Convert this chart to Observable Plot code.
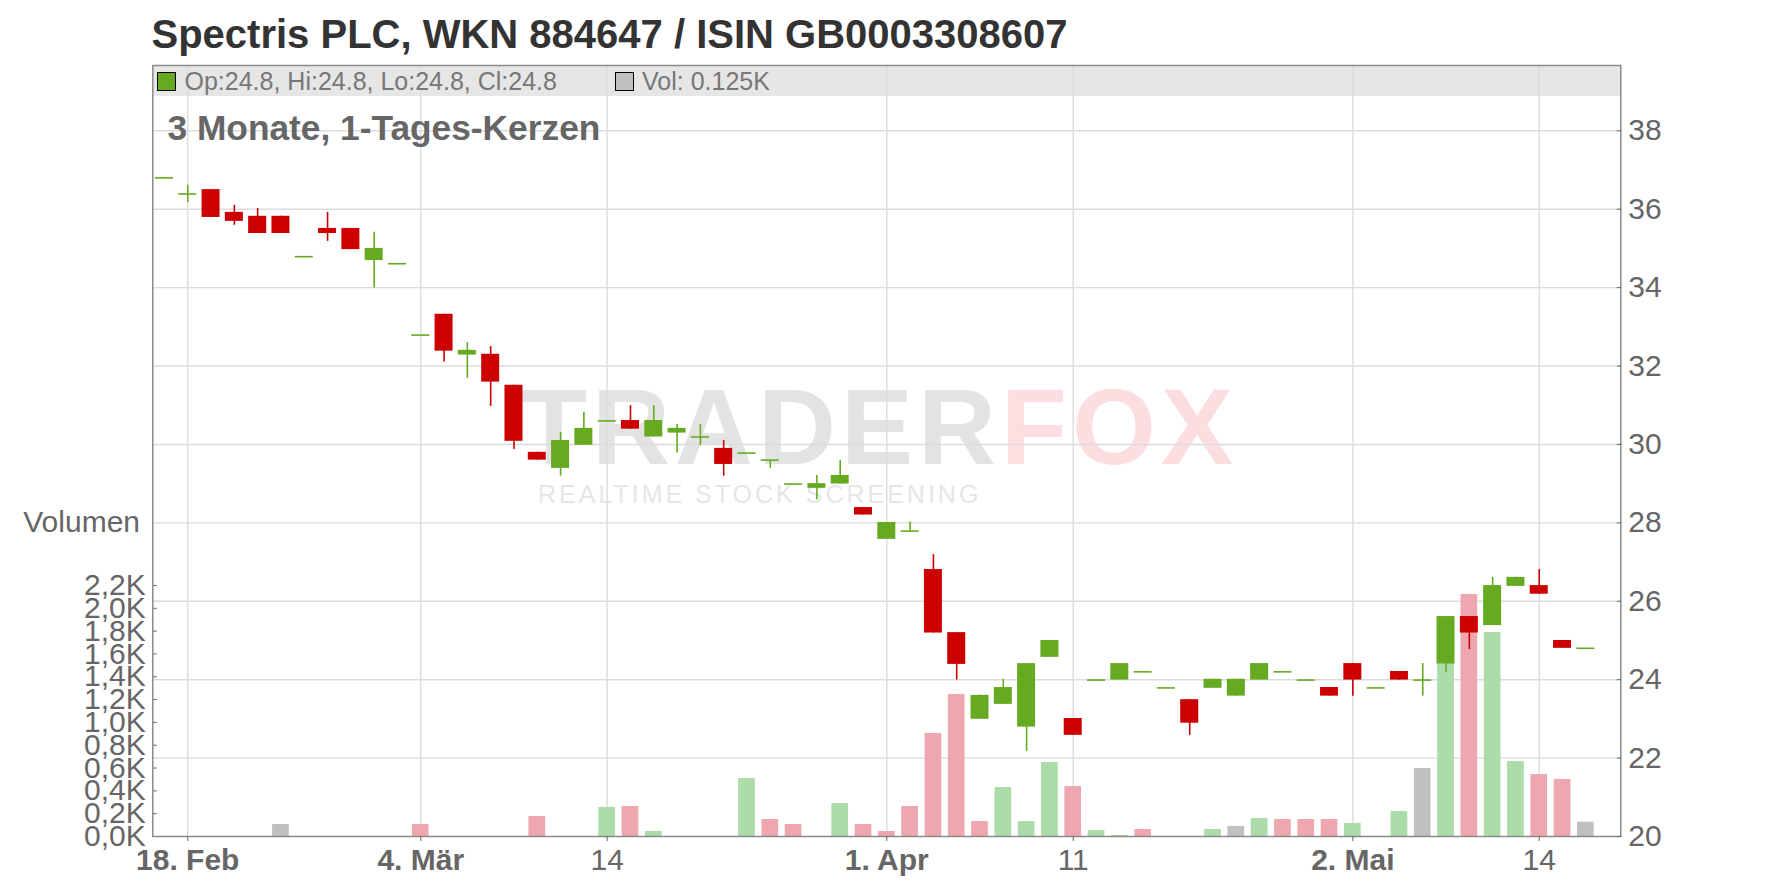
<!DOCTYPE html>
<html><head><meta charset="utf-8">
<script src="https://cdn.jsdelivr.net/npm/d3@7"></script>
<script src="https://cdn.jsdelivr.net/npm/@observablehq/plot@0.6"></script>
<style>
html,body{margin:0;padding:0;background:#fff;}
#wrap{position:relative;width:1776px;height:888px;overflow:hidden;font-family:"Liberation Sans",Arial,sans-serif;background:#fff;}
.layer{position:absolute;left:0;top:0;}
.abs{position:absolute;white-space:nowrap;line-height:1;}
.sq{position:absolute;width:19px;height:19px;box-sizing:border-box;border:1px solid #000;}
</style></head><body>
<div id="wrap">
  <div class="abs" style="left:152px;top:65px;width:1468px;height:31px;background:#e6e6e6;"></div>
  <div class="abs" style="left:521px;top:373px;font-size:108px;font-weight:bold;letter-spacing:5px;color:#e3e3e3;">TRADER<span style="color:#fcdde0">FOX</span></div>
  <div class="abs" style="left:538px;top:482px;font-size:25px;letter-spacing:3px;color:#e6e6e6;">REALTIME STOCK SCREENING</div>
  <div id="l1" class="layer"></div>
  <div id="l2" class="layer"></div>
  <div id="l3" class="layer"></div>
  <div class="abs" style="left:151.5px;top:14px;font-size:40px;font-weight:bold;color:#333;">Spectris PLC, WKN 884647 / ISIN GB0003308607</div>
  <div class="sq" style="left:157px;top:72px;background:#66aa22;"></div>
  <div id="ohlc" class="abs" style="left:184.5px;top:68.8px;font-size:25px;color:#777;"></div>
  <div class="sq" style="left:615px;top:72px;background:#c0c0c0;"></div>
  <div id="voltxt" class="abs" style="left:642px;top:68.8px;font-size:25px;color:#777;"></div>
  <div class="abs" style="left:167.5px;top:110.4px;font-size:35.3px;font-weight:bold;color:#666;">3 Monate, 1-Tages-Kerzen</div>
  <div class="abs" style="right:1636px;top:506.6px;font-size:30px;color:#666;">Volumen</div>
</div>
<script>
// ---- data (trading days, Spectris PLC, Feb 15 – May 16, 2019) ----
const dates = [
  "2019-02-15","2019-02-18","2019-02-19","2019-02-20","2019-02-21","2019-02-22","2019-02-25","2019-02-26","2019-02-27","2019-02-28",
  "2019-03-01","2019-03-04","2019-03-05","2019-03-06","2019-03-07","2019-03-08","2019-03-11","2019-03-12","2019-03-13","2019-03-14",
  "2019-03-15","2019-03-18","2019-03-19","2019-03-20","2019-03-21","2019-03-22","2019-03-25","2019-03-26","2019-03-27","2019-03-28",
  "2019-03-29","2019-04-01","2019-04-02","2019-04-03","2019-04-04","2019-04-05","2019-04-08","2019-04-09","2019-04-10","2019-04-11",
  "2019-04-12","2019-04-15","2019-04-16","2019-04-17","2019-04-18","2019-04-23","2019-04-24","2019-04-25","2019-04-26","2019-04-29",
  "2019-04-30","2019-05-02","2019-05-03","2019-05-06","2019-05-07","2019-05-08","2019-05-09","2019-05-10","2019-05-13","2019-05-14",
  "2019-05-15","2019-05-16"
];
const open = [36.80,36.39,36.50,35.92,35.82,35.82,34.79,35.51,35.51,34.69,
  34.61,32.79,33.32,32.28,32.30,31.51,29.80,29.39,29.98,30.60,
  30.61,30.19,30.29,30.19,29.90,29.78,29.60,28.99,28.88,28.99,
  28.39,27.58,27.79,26.81,25.20,22.99,23.37,22.79,24.57,23.01,
  23.99,23.99,24.20,23.79,23.49,23.78,23.58,23.99,24.20,23.99,
  23.80,24.41,23.79,24.21,23.99,24.40,25.61,25.38,26.38,26.40,
  25.00,24.80];
const high = [36.80,36.61,36.50,36.10,36.02,35.82,34.79,35.92,35.51,35.41,
  34.61,32.79,33.32,32.60,32.50,31.51,29.80,30.31,30.82,30.60,
  30.99,30.99,30.51,30.51,30.10,29.78,29.60,28.99,29.21,29.60,
  28.39,28.01,28.02,27.19,25.20,23.60,24.01,24.41,25.00,23.01,
  23.99,24.41,24.20,23.79,23.49,24.01,24.01,24.41,24.20,23.99,
  23.80,24.41,23.79,24.21,24.41,25.61,25.61,26.61,26.61,26.81,
  25.00,24.80];
const low = [36.80,36.17,35.79,35.59,35.38,35.38,34.79,35.18,34.97,33.99,
  34.61,32.79,32.10,31.69,30.97,29.87,29.60,29.19,29.98,30.60,
  30.39,30.19,29.78,29.97,29.19,29.78,29.39,28.99,28.58,28.99,
  28.20,27.58,27.79,25.19,23.99,22.99,23.37,22.17,24.57,22.58,
  23.99,23.99,24.20,23.79,22.58,23.78,23.58,23.99,24.20,23.99,
  23.58,23.58,23.79,23.99,23.58,24.19,24.77,25.38,26.38,26.18,
  24.80,24.80];
const close = [36.80,36.39,35.79,35.69,35.38,35.38,34.79,35.38,34.97,35.00,
  34.61,32.79,32.38,32.40,31.59,30.08,29.60,30.10,30.41,30.60,
  30.39,30.61,30.41,30.19,29.49,29.78,29.60,28.99,29.00,29.21,
  28.20,28.01,27.79,25.19,24.39,23.60,23.80,24.41,25.00,22.58,
  23.99,24.41,24.20,23.79,22.89,24.01,24.01,24.41,24.20,23.99,
  23.58,23.99,23.79,23.99,23.99,25.61,25.19,26.40,26.61,26.18,
  24.80,24.80];
const volume = [0,0,0,0,0,105,0,0,0,0,
  0,105,0,0,0,0,175,0,0,254,
  263,44,0,0,0,508,149,105,0,289,
  105,44,263,903,1245,131,429,131,649,438,
  53,9,61,0,0,61,88,158,149,149,
  149,114,0,219,596,1530,2121,1788,657,543,
  500,125];
const xTickDates  = ["2019-02-18","2019-03-04","2019-03-14","2019-04-01","2019-04-11","2019-05-02","2019-05-14"];
const xTickLabels = ["18. Feb","4. Mär","14","1. Apr","11","2. Mai","14"];
const xTickBold   = [true,true,false,true,false,true,false];
const priceTicks  = [20,22,24,26,28,30,32,34,36,38];
const volumeTicks = [0,200,400,600,800,1000,1200,1400,1600,1800,2000,2200];

// ---- build ----
const GREEN = "#66aa22", RED = "#cc0000";
const VGREEN = "#acdca9", VRED = "#eea7ae", VGREY = "#c0c0c0";
const rows = dates.map((d, i) => ({
  i, date: d, o: open[i], h: high[i], l: low[i], c: close[i], v: volume[i],
  col: close[i] >= open[i] ? GREEN : RED,
  vcol: i === 0 ? VGREY : (close[i] > close[i-1] ? VGREEN : close[i] < close[i-1] ? VRED : VGREY)
}));
const last = rows[rows.length - 1];
document.getElementById("ohlc").textContent = `Op:${last.o.toFixed(1)}, Hi:${last.h.toFixed(1)}, Lo:${last.l.toFixed(1)}, Cl:${last.c.toFixed(1)}`;
document.getElementById("voltxt").textContent = `Vol: ${(last.v/1000).toFixed(3)}K`;

const tickIdx = xTickDates.map(d => dates.indexOf(d));
const labelOf = new Map(tickIdx.map((t, k) => [t, xTickLabels[k]]));
const boldIdx = tickIdx.filter((t, k) => xTickBold[k]);
const normIdx = tickIdx.filter((t, k) => !xTickBold[k]);

const W = 1776, H = 888, ML = 152.3, MR = 155.7, MT = 65, MB = 52;
const xDom = [-0.5, dates.length + 0.5];
const priceDom = [20, 39.666];
const font = "Liberation Sans, Arial, sans-serif";
const base = {width: W, height: H, marginLeft: ML, marginRight: MR, marginTop: MT, marginBottom: MB,
  style: {background: "transparent", fontFamily: font, color: "#666", overflow: "visible"}};

// layer 1: grid
document.getElementById("l1").append(Plot.plot({...base,
  x: {domain: xDom, axis: null}, y: {domain: priceDom, axis: null},
  marks: [
    Plot.ruleX(tickIdx, {stroke: "#dcdcdc", strokeWidth: 1.4}),
    Plot.ruleY(priceTicks.filter(t => t > 20), {stroke: "#dcdcdc", strokeWidth: 1.4})
  ]}));

// layer 2: volume
document.getElementById("l2").append(Plot.plot({...base,
  x: {domain: xDom, axis: null},
  y: {domain: [0, 2200], range: [H - MB, 585], axis: null},
  marks: [
    Plot.rect(rows.filter(d => d.v > 0), {x1: d => d.i - 0.5, x2: d => d.i + 0.5, y1: 0, y2: "v",
      insetLeft: 3.3, insetRight: 3.3, fill: "vcol"}),
    Plot.axisY({anchor: "left", ticks: volumeTicks, tickSize: -4.5, tickPadding: 11.5, fontSize: 30,
      fill: "#666", stroke: "#666", label: null,
      tickFormat: d => (d/1000).toFixed(1).replace(".", ",") + "K"})
  ]}));

// layer 3: candles + axes
document.getElementById("l3").append(Plot.plot({...base,
  x: {domain: xDom, axis: null}, y: {domain: priceDom, axis: null},
  marks: [
    Plot.ruleX(rows.filter(d => d.h > d.l), {x: "i", y1: "l", y2: "h", stroke: "col", strokeWidth: 1.6}),
    Plot.rect(rows.filter(d => d.o !== d.c), {x1: d => d.i - 0.5, x2: d => d.i + 0.5,
      y1: d => Math.min(d.o, d.c), y2: d => Math.max(d.o, d.c), insetLeft: 2.65, insetRight: 2.65, fill: "col"}),
    Plot.ruleY(rows.filter(d => d.o === d.c), {y: "c", x1: d => d.i - 0.5, x2: d => d.i + 0.5,
      insetLeft: 2.65, insetRight: 2.65, stroke: "col", strokeWidth: 1.6}),
    Plot.frame({stroke: "#8a8a8a", strokeWidth: 1.5}),
    Plot.axisY({anchor: "right", ticks: priceTicks, tickSize: -4.5, tickPadding: 12, fontSize: 30,
      fill: "#666", stroke: "#666", label: null}),
    Plot.axisX({anchor: "bottom", ticks: boldIdx, tickFormat: t => labelOf.get(t), tickSize: 5, tickPadding: 7,
      fontSize: 30, fontWeight: "bold", fill: "#666", stroke: "#666", label: null}),
    Plot.axisX({anchor: "bottom", ticks: normIdx, tickFormat: t => labelOf.get(t), tickSize: 5, tickPadding: 7,
      fontSize: 30, fill: "#666", stroke: "#666", label: null})
  ]}));
</script>
</body></html>
